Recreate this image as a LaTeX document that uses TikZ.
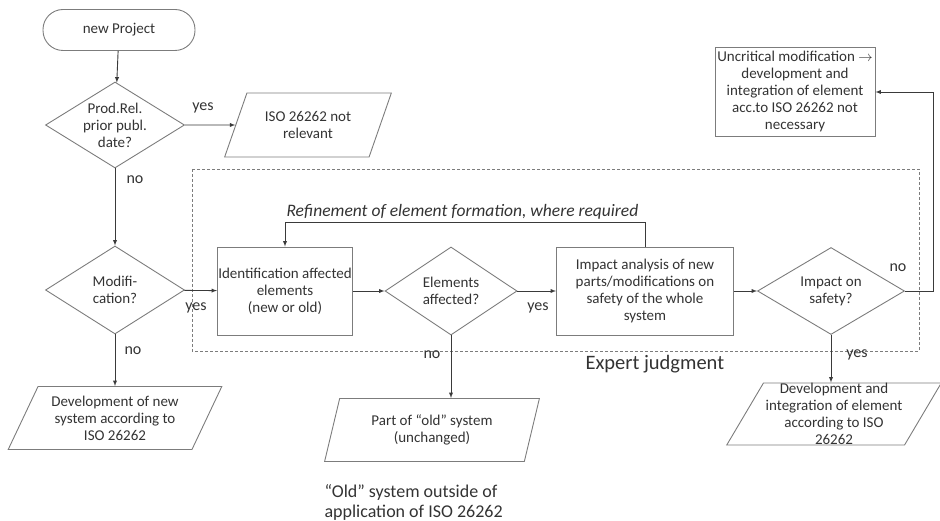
\documentclass[tikz,border=0pt]{standalone}
\usepackage{fontspec}
\setmainfont{Carlito}
\usetikzlibrary{arrows}
\usetikzlibrary{shapes.geometric}
\definecolor{boxgray}{HTML}{7C7C7C}
\definecolor{linegray}{HTML}{3A3A3A}
\definecolor{txtgray}{HTML}{333333}

\begin{document}
\begin{tikzpicture}[x=1pt,y=-1pt,
  every node/.style={text=txtgray,font=\fontsize{15}{17}\selectfont},
  term/.style={draw=boxgray,line width=0.9pt,rounded corners=20pt,minimum width=152pt,minimum height=41pt},
  decision/.style={draw=boxgray,line width=0.9pt,diamond,aspect=1.6,inner sep=0pt,align=center},
  process/.style={draw=boxgray,line width=0.9pt,rectangle,inner sep=0pt,align=center},
  io/.style={draw=boxgray,line width=0.9pt,trapezium,trapezium left angle=60,trapezium right angle=120,trapezium stretches=true,inner sep=0pt,align=center},
  flow/.style={draw=linegray,line width=0.9pt,-latex},
  lbl/.style={font=\fontsize{16}{18}\selectfont}]
\useasboundingbox (0,0) rectangle (940,521);

% expert judgment region
\draw[boxgray,line width=0.8pt,dash pattern=on 3pt off 2pt] (192,169) rectangle (919,351);
\node[anchor=west,font=\fontsize{20.5}{22}\selectfont] (expert) at (582,364) {Expert judgment};

% main flow
\node[term] (start) at (119,30) {new Project};
\node[decision,minimum width=139pt,minimum height=86pt] (prod) at (115,125) {Prod.Rel.\\prior publ.\\date?};
\node[io,minimum width=167pt,minimum height=64pt] (irrel) at (308,125) {ISO 26262 not\\relevant};
\node[decision,minimum width=139pt,minimum height=88pt] (modif) at (115,290) {Modifi-\\cation?};
\node[io,trapezium left angle=61,trapezium right angle=119,minimum width=214pt,minimum height=63pt] (devnew) at (115,418) {Development of new\\system according to\\ISO 26262};
\node[process,minimum width=135pt,minimum height=88pt] (ident) at (285,291) {Identification affected\\elements\\(new or old)};
\node[decision,aspect=1.5,minimum width=132pt,minimum height=88pt] (affect) at (451,291) {Elements\\affected?};
\node[io,trapezium left angle=72,trapezium right angle=108,minimum width=215pt,minimum height=63pt] (oldpart) at (432,430) {Part of “old” system\\(unchanged)};
\node[process,minimum width=177pt,minimum height=88pt] (impact) at (645,291) {Impact analysis of new\\parts/modifications on\\safety of the whole\\system};
\node[decision,aspect=1.7,minimum width=147pt,minimum height=87pt] (safety) at (831,291) {Impact on\\safety?};
\node[process,minimum width=160pt,minimum height=89pt] (uncrit) at (795,92) {Uncritical modification \ensuremath{\rightarrow}\\development and\\integration of element\\acc.to ISO 26262 not\\necessary};
\node[io,minimum width=215pt,minimum height=62pt] (devint) at (834,414) {Development and\\integration of element\\according to ISO\\26262};

\node[anchor=north west,align=left,font=\fontsize{18}{20}\selectfont] (outside) at (321,481) {“Old” system outside of\\application of ISO 26262};
\node[anchor=base west,font=\fontsize{17.5}{19}\selectfont\itshape] (refine) at (283,217) {Refinement of element formation, where required};

% connectors
\draw[flow] (start) -- (prod);
\draw[flow] (prod) -- (irrel);
\draw[flow] (prod) -- (modif);
\draw[flow] (modif) -- (ident);
\draw[flow] (modif) -- (devnew);
\draw[flow] (ident) -- (affect);
\draw[flow] (affect) -- (impact);
\draw[flow] (affect.south) -- (affect.south |- oldpart.north);
\draw[flow] (impact) -- (safety);
\draw[flow] (safety.east) -- ++(28,0) |- (uncrit.east);
\draw[flow] (safety.south) -- (safety.south |- devint.north);
\draw[flow] (impact.north) -- ++(0,-24) -| (ident.north);

% labels
\node[lbl] (yes1) at (203,108) {yes};
\node[lbl] (no1) at (135,180) {no};
\node[lbl] (yes2) at (196,308) {yes};
\node[lbl] (no2) at (133,351) {no};
\node[lbl] (yes3) at (538,308) {yes};
\node[lbl] (no3) at (432,355) {no};
\node[lbl] (no4) at (898,268) {no};
\node[lbl] (yes4) at (857,355) {yes};
\end{tikzpicture}
\end{document}
